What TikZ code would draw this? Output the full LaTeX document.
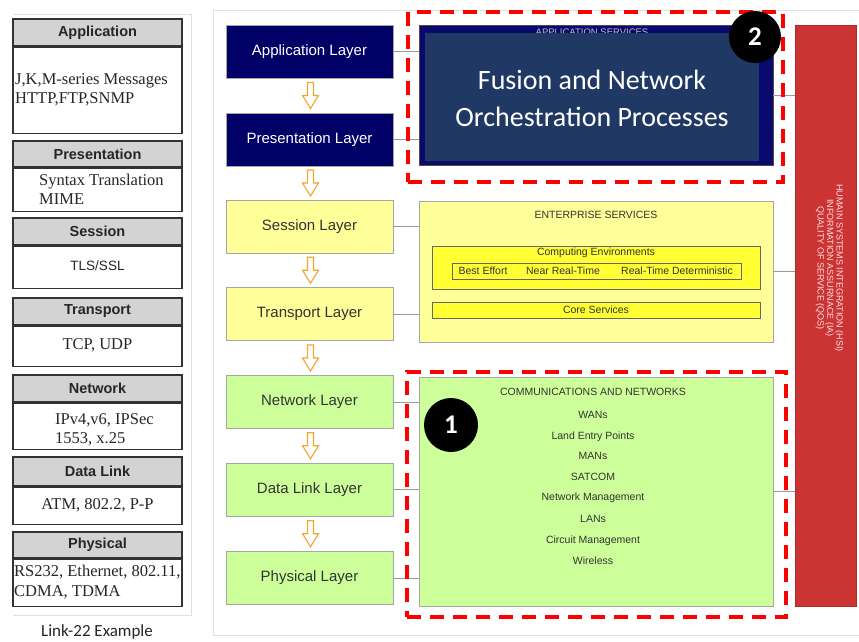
\documentclass[tikz,border=0pt]{standalone}
\usepackage{fontspec}
\setmainfont{Liberation Sans}
\newfontfamily\serifx{Liberation Serif}
\newfontfamily\calib{Carlito}
\usetikzlibrary{calc}
\definecolor{navy}{HTML}{000066}
\definecolor{navyout}{HTML}{0A0A6E}
\definecolor{navyin}{HTML}{1F3864}
\definecolor{lyellow}{HTML}{FFFF99}
\definecolor{byellow}{HTML}{FFFF33}
\definecolor{lgreen}{HTML}{CCFF99}
\definecolor{redbar}{HTML}{CC3333}
\definecolor{dashred}{HTML}{FF0000}
\definecolor{arrorange}{HTML}{F0A830}
\definecolor{headgray}{HTML}{D3D3D3}
\definecolor{txtgray}{HTML}{333333}
\begin{document}
\begin{tikzpicture}[x=1pt,y=-1pt,
  layer/.style={draw=gray!70, line width=0.8, minimum width=167, minimum height=53, inner sep=0, font=\fontsize{15}{17}\selectfont},
  navylayer/.style={layer, fill=navy, text=white},
  yellowlayer/.style={layer, fill=lyellow, text=txtgray},
  greenlayer/.style={layer, fill=lgreen, text=txtgray},
  lhead/.style={draw=black!80, line width=1.5, fill=headgray, minimum width=169, inner sep=0, font=\fontsize{14.5}{16}\selectfont\bfseries, text=black!85},
  lbody/.style={draw=black!80, line width=1.5, fill=white, minimum width=169, inner sep=0},
  ltext/.style={inner sep=0, align=left, anchor=west, font=\serifx\fontsize{16.5}{19}\selectfont, text=black!85},
  ctext/.style={inner sep=0, align=center, font=\serifx\fontsize{16.5}{19}\selectfont, text=black!85},
  conn/.style={draw=gray!80, line width=0.8},
  frame/.style={draw=gray!25, line width=0.8},
  small/.style={inner sep=0, font=\fontsize{10.5}{12}\selectfont, text=txtgray},
  dashbox/.style={draw=dashred, line width=4, dash pattern=on 14pt off 9pt, inner sep=0},
  badge/.style={circle, fill=black, text=white, inner sep=0, font=\calib\bfseries\fontsize{27}{28}\selectfont},
  downarr/.pic={\draw[arrorange, line width=1.1, fill=white, line join=miter] (-3,-13) -- (3,-13) -- (3,0) -- (8,0) -- (0,13) -- (-8,0) -- (-3,0) -- cycle;}
]
\useasboundingbox (0,0) rectangle (859,641);
\fill[white] (0,0) rectangle (859,641);

% ---------- frames ----------
\draw[frame] (13,14) -- (191,14) -- (191,615) -- (13,615);
\draw[frame] (859,10) -- (213,10) -- (213,635) -- (859,635);

% ---------- left column: Link-22 example ----------
\node[lhead, minimum height=27] (hApp) at (97.5,32.5) {Application};
\node[lbody, minimum height=86, anchor=north] (bApp) at (hApp.south) {};
\node[ltext] (tApp) at (15,89.5) {J,K,M-series Messages\\HTTP,FTP,SNMP};

\node[lhead, minimum height=26] (hPres) at (97.5,154) {Presentation};
\node[lbody, minimum height=43, anchor=north] (bPres) at (hPres.south) {};
\node[ltext] (tPres) at (39,189.5) {Syntax Translation\\MIME};

\node[lhead, minimum height=27] (hSes) at (97.5,231.5) {Session};
\node[lbody, minimum height=42, anchor=north] (bSes) at (hSes.south) {};
\node[inner sep=0, font=\fontsize{13.5}{15}\selectfont, text=black!85] (tSes) at (97.5,266) {TLS/SSL};

\node[lhead, minimum height=27] (hTra) at (97.5,311.5) {Transport};
\node[lbody, minimum height=40, anchor=north] (bTra) at (hTra.south) {};
\node[ctext] (tTra) at (97.5,345) {TCP, UDP};

\node[lhead, minimum height=27] (hNet) at (97.5,388.5) {Network};
\node[lbody, minimum height=46, anchor=north] (bNet) at (hNet.south) {};
\node[ltext] (tNet) at (55,430) {IPv4,v6, IPSec\\1553, x.25};

\node[lhead, minimum height=29] (hDL) at (97.5,471.5) {Data Link};
\node[lbody, minimum height=37, anchor=north] (bDL) at (hDL.south) {};
\node[ctext] (tDL) at (97.5,505) {ATM, 802.2, P-P};

\node[lhead, minimum height=26] (hPhy) at (97.5,545) {Physical};
\node[lbody, minimum height=47, anchor=north] (bPhy) at (hPhy.south) {};
\node[ltext, font=\serifx\fontsize{16.5}{20}\selectfont] (tPhy) at (14,582.5) {RS232, Ethernet, 802.11,\\CDMA, TDMA};

\node[inner sep=0, font=\calib\fontsize{17}{19}\selectfont, text=black!85] (cap) at (97,632) {Link-22 Example};

% ---------- OSI layers ----------
\node[navylayer] (appL) at (309.5,51.5) {Application Layer};
\node[navylayer] (preL) at (309.5,139.5) {Presentation Layer};
\node[yellowlayer] (sesL) at (309.5,226.5) {Session Layer};
\node[yellowlayer] (traL) at (309.5,314) {Transport Layer};
\node[greenlayer] (netL) at (309.5,402) {Network Layer};
\node[greenlayer] (dlL) at (309.5,489.5) {Data Link Layer};
\node[greenlayer] (phyL) at (309.5,578) {Physical Layer};

\pic at ($(appL.south)!0.5!(preL.north)+(1,0)$) {downarr};
\pic at ($(preL.south)!0.5!(sesL.north)+(1,0)$) {downarr};
\pic at ($(sesL.south)!0.5!(traL.north)+(1,0)$) {downarr};
\pic at ($(traL.south)!0.5!(netL.north)+(1,0)$) {downarr};
\pic at ($(netL.south)!0.5!(dlL.north)+(1,0)$) {downarr};
\pic at ($(dlL.south)!0.5!(phyL.north)+(1,0)$) {downarr};

% ---------- service boxes ----------
\node[draw=black!70, line width=0.8, fill=navyout, minimum width=354, minimum height=140, inner sep=0] (appS) at (596,95) {};
\node[inner sep=0, font=\fontsize{9.5}{11}\selectfont, text=black!25] (appST) at (592,32) {APPLICATION SERVICES};
\node[fill=navyin, minimum width=334, minimum height=128, inner sep=0] (appIn) at (592,97) {};
\node[inner sep=0, align=center, text=white, font=\calib\fontsize{28}{37}\selectfont] (fusion) at (592,98) {Fusion and Network\\Orchestration Processes};

\node[draw=gray!70, line width=0.8, fill=lyellow, minimum width=354, minimum height=141, inner sep=0] (entS) at (596,271.5) {};
\node[small] (entT) at (596,215) {ENTERPRISE SERVICES};
\node[draw=gray!80!black, line width=0.8, fill=byellow, minimum width=328, minimum height=43, inner sep=0] (comp) at (596,267.5) {};
\node[small] (compT) at (596,253) {Computing Environments};
\node[draw=gray!80!black, line width=0.8, minimum width=289, minimum height=16, inner sep=0] (compIn) at (596.5,271) {};
\node[small] (be) at (483,271) {Best Effort};
\node[small] (nrt) at (563,271) {Near Real-Time};
\node[small] (rtd) at (677,271) {Real-Time Deterministic};
\node[draw=gray!80!black, line width=0.8, fill=byellow, minimum width=328, minimum height=16, inner sep=0, font=\fontsize{10.5}{12}\selectfont, text=txtgray] (core) at (596,310) {Core Services};

\node[draw=gray!70, line width=0.8, fill=lgreen, minimum width=354, minimum height=229, inner sep=0] (comS) at (596,491.5) {};
\node[small] (comT) at (593,392) {COMMUNICATIONS AND NETWORKS};
\node[small] (c1) at (593,415) {WANs};
\node[small] (c2) at (593,436.5) {Land Entry Points};
\node[small] (c3) at (593,456) {MANs};
\node[small] (c4) at (593,477) {SATCOM};
\node[small] (c5) at (593,498) {Network Management};
\node[small] (c6) at (593,519) {LANs};
\node[small] (c7) at (593,540.5) {Circuit Management};
\node[small] (c8) at (593,561) {Wireless};

% ---------- red bar ----------
\node[draw=redbar!85!black, line width=0.6, fill=redbar, minimum width=61, minimum height=581, inner sep=0] (rbar) at (825.5,315.5) {};
\node[inner sep=0, rotate=-90, align=center, text=red!12, font=\fontsize{9}{9.5}\selectfont] (rtext) at (829.5,268) {HUMAIN SYSTEMS INTEGRATION (HSI)\\INFORMATION ASSURNACE (IA)\\QUALITY OF SERVICE (QOS)};

% ---------- connectors ----------
\draw[conn] (appL.east) -- (appS.west |- appL.east);
\draw[conn] (preL.east) -- (appS.west |- preL.east);
\draw[conn] (sesL.east) -- (entS.west |- sesL.east);
\draw[conn] (traL.east) -- (entS.west |- traL.east);
\draw[conn] (netL.east) -- (comS.west |- netL.east);
\draw[conn] (dlL.east) -- (comS.west |- dlL.east);
\draw[conn] (phyL.east) -- (comS.west |- phyL.east);
\draw[conn] (appS.east) -- (rbar.west |- appS.east);
\draw[conn] (entS.east) -- (rbar.west |- entS.east);
\draw[conn] (comS.east) -- (rbar.west |- comS.east);

% ---------- highlights ----------
\node[dashbox, minimum width=375, minimum height=170] (d2) at (595.5,97) {};
\node[dashbox, minimum width=379, minimum height=245] (d1) at (596.5,494.5) {};
\node[badge, minimum size=52] (b2) at (755,37) {2};
\node[badge, minimum size=54] (b1) at (451,425) {1};
\end{tikzpicture}
\end{document}
